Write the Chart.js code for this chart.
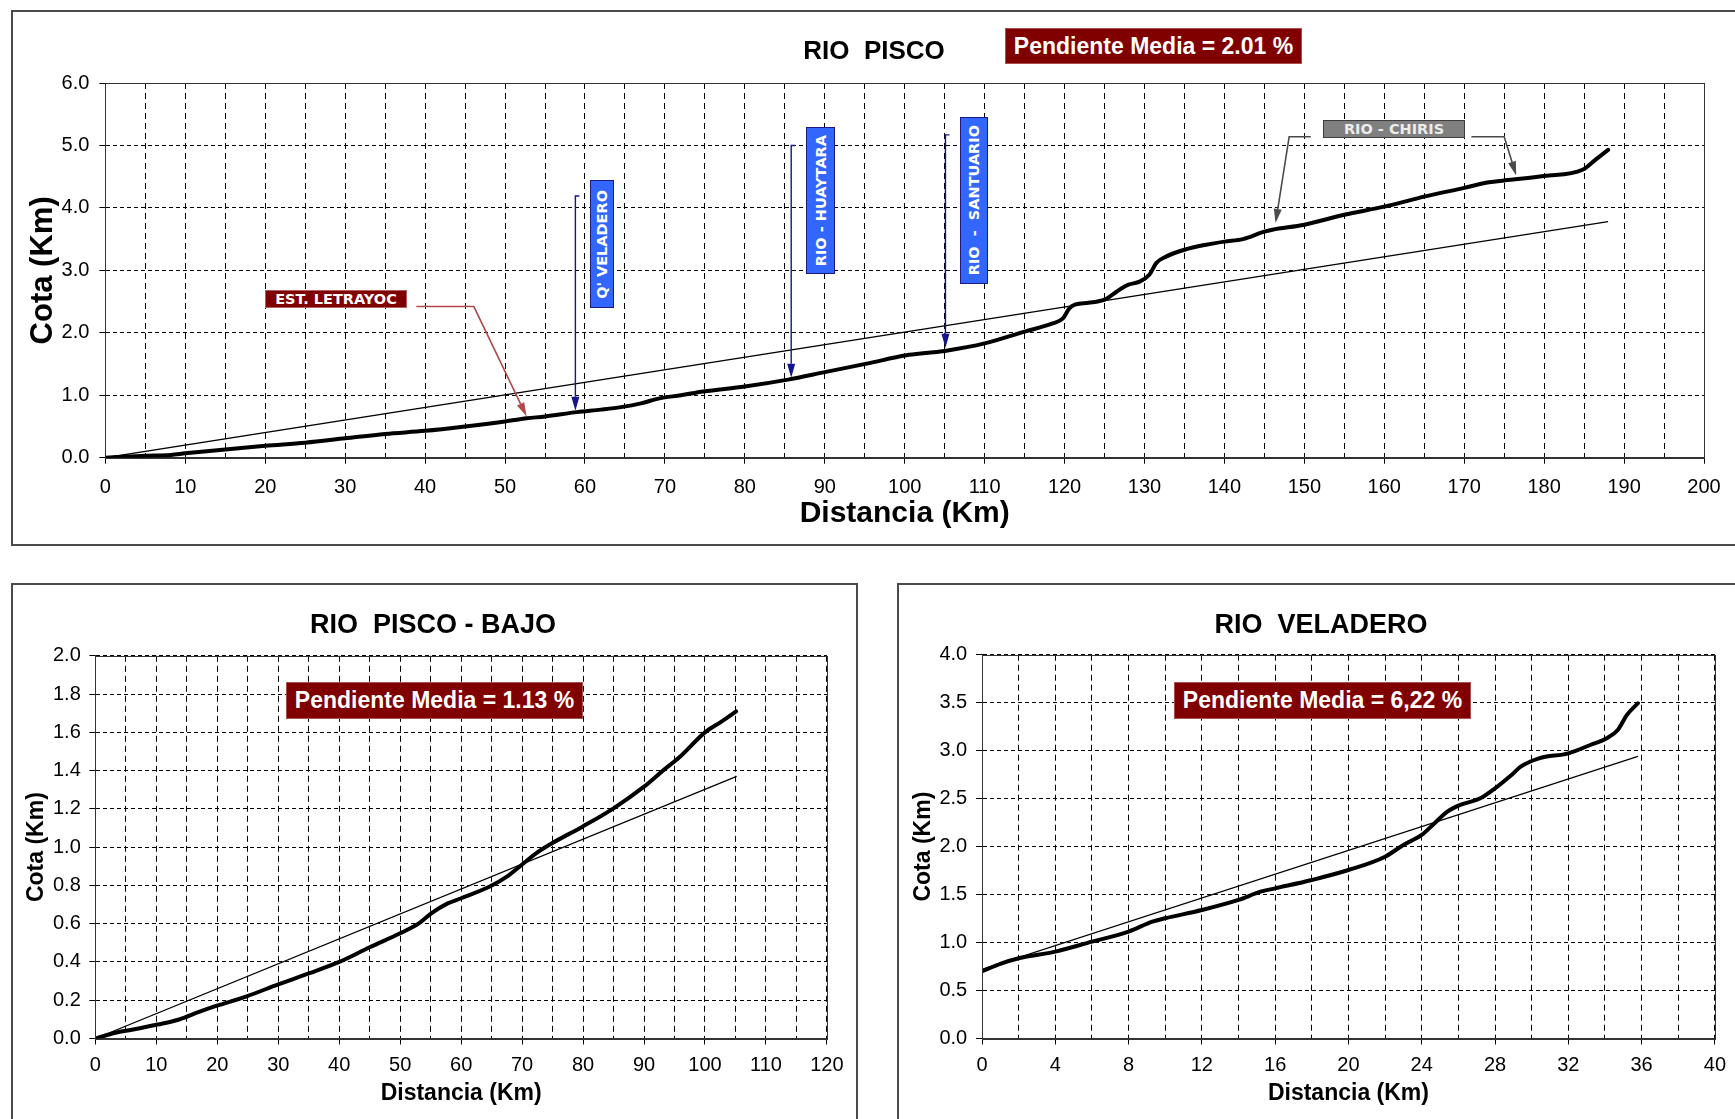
<!DOCTYPE html>
<html>
<head>
<meta charset="utf-8">
<title>Perfil longitudinal - Rio Pisco</title>
<script src="https://cdn.jsdelivr.net/npm/chart.js@4.4.1/dist/chart.umd.min.js"></script>
<style>
    body { margin: 0; background: #fff; font-family: "Liberation Sans", Arial, sans-serif; }
    #page { position: relative; width: 1735px; height: 1119px; overflow: hidden; background: #fff; }
    .frame { position: absolute; border: 2px solid #4a4a4a; box-sizing: border-box; }
    .plot { position: absolute; }
    .title { position: absolute; font-weight: bold; white-space: pre; transform: translate(-50%, -50%); color: #000; }
    .tag { position: absolute; box-sizing: border-box; display: flex; align-items: center; justify-content: center; font-weight: bold; white-space: pre; }
    .media { background: #800000; color: #fff; border: 1px solid #a85050; font-size: 23px; }
    .small { font-family: "DejaVu Sans", Verdana, sans-serif; font-size: 14.5px; }
    .red { background: #800000; color: #fff; border: 1px solid #b06060; }
    .blue { background: #3366ff; color: #fff; border: 1px solid #1a1a80; }
    .gray { background: #808080; color: #ececec; border: 1px solid #3c3c3c; }
    .vert span { writing-mode: vertical-rl; transform: rotate(180deg); }
</style>
</head>
<body>
<div id="page">
    <!-- frames -->
    <div class="frame" style="left:11px; top:10px; width:1740px; height:536px;"></div>
    <div class="frame" style="left:11px; top:583px; width:847px; height:560px;"></div>
    <div class="frame" style="left:897px; top:583px; width:850px; height:560px;"></div>

    <!-- charts -->
    <div class="plot" style="left:0; top:0; width:1735px; height:545px;"><canvas id="pisco-chart"></canvas></div>
    <div class="plot" style="left:0; top:560px; width:870px; height:559px;"><canvas id="bajo-chart"></canvas></div>
    <div class="plot" style="left:880px; top:560px; width:855px; height:559px;"><canvas id="veladero-chart"></canvas></div>

    <!-- titles -->
    <div class="title" style="left:874px; top:50px; font-size:26px;">RIO  PISCO</div>
    <div class="title" style="left:433px; top:624px; font-size:27px;">RIO  PISCO - BAJO</div>
    <div class="title" style="left:1321px; top:624px; font-size:27px;">RIO  VELADERO</div>

    <!-- slope boxes -->
    <div class="tag media" style="left:1005px; top:28px; width:297px; height:36px;">Pendiente Media = 2.01 %</div>
    <div class="tag media" style="left:286px; top:682px; width:297px; height:37px;">Pendiente Media = 1.13 %</div>
    <div class="tag media" style="left:1174px; top:682px; width:297px; height:37px;">Pendiente Media = 6,22 %</div>

    <!-- tributary labels -->
    <div class="tag small red" style="left:265px; top:290px; width:142px; height:18px;">EST. LETRAYOC</div>
    <div class="tag small blue vert" style="left:590px; top:180px; width:24px; height:128px;"><span>Q' VELADERO</span></div>
    <div class="tag small blue vert" style="left:806px; top:127px; width:29px; height:147px;"><span>RIO - HUAYTARA</span></div>
    <div class="tag small blue vert" style="left:960px; top:117px; width:28px; height:167px;"><span>RIO  -  SANTUARIO</span></div>
    <div class="tag small gray" style="left:1323px; top:120px; width:142px; height:18px;">RIO - CHIRIS</div>
</div>

<script>
// ---- data read from the profiles ----

// Rio Pisco (full profile)
var pisco_km = [0, 3, 5, 8.2, 10, 15, 20, 25, 30, 35, 40, 45, 50, 52.7, 55, 59, 62, 64.5, 67, 69.3,
    72, 74.8, 80, 85.4, 90, 95.4, 100.2, 103, 105, 110, 115, 118.5, 119.8, 120.6, 121.3, 123, 125,
    126, 127.1, 128, 129.4, 130.6, 131.5, 132.7, 135, 137.7, 140, 142.3, 145, 146, 150, 155, 160,
    165, 170, 173.1, 175, 180, 184.8, 186.4, 188];
var pisco_cota = [0, 0.02, 0.03, 0.045, 0.07, 0.13, 0.19, 0.24, 0.31, 0.38, 0.43, 0.50, 0.58, 0.63,
    0.66, 0.73, 0.77, 0.81, 0.87, 0.95, 1.00, 1.06, 1.14, 1.25, 1.37, 1.51, 1.64, 1.68, 1.71, 1.83,
    2.02, 2.15, 2.23, 2.39, 2.45, 2.48, 2.53, 2.61, 2.71, 2.77, 2.82, 2.93, 3.12, 3.22, 3.33, 3.41,
    3.46, 3.50, 3.62, 3.65, 3.73, 3.89, 4.02, 4.18, 4.32, 4.41, 4.44, 4.51, 4.61, 4.77, 4.93];
var pisco_trend_km = [0, 188];
var pisco_trend_cota = [0, 3.78];

// Rio Pisco - bajo
var bajo_km = [0, 3.3, 6, 10.2, 13.6, 17.1, 19.8, 24.7, 30, 35, 40, 45, 50, 53, 55.1, 57.8, 60,
    64.7, 67.5, 69.9, 72.3, 74.9, 79.9, 85, 90, 93.1, 95.8, 100, 102.7, 105.1];
var bajo_cota = [0, 0.03, 0.046, 0.073, 0.098, 0.14, 0.17, 0.219, 0.283, 0.34, 0.40, 0.477, 0.55,
    0.60, 0.654, 0.706, 0.733, 0.794, 0.846, 0.907, 0.968, 1.02, 1.107, 1.203, 1.316, 1.40, 1.47,
    1.60, 1.656, 1.71];
var bajo_trend_km = [0, 105.2];
var bajo_trend_cota = [0, 1.37];

// Rio Veladero
var vel_km = [0, 1.04, 2, 4, 6, 8, 9.3, 10, 12, 14, 15.2, 16, 18, 20, 22, 23, 24, 24.7, 25.4, 26.1,
    27.2, 28, 28.9, 29.4, 30.4, 32, 33.2, 34.1, 34.7, 35.2, 35.8];
var vel_cota = [0.70, 0.78, 0.836, 0.905, 1.009, 1.114, 1.218, 1.253, 1.339, 1.444, 1.53, 1.565,
    1.652, 1.756, 1.895, 2.017, 2.121, 2.243, 2.364, 2.434, 2.503, 2.607, 2.746, 2.833, 2.92, 2.972,
    3.059, 3.129, 3.216, 3.372, 3.494];
var vel_trend_km = [0, 35.8];
var vel_trend_cota = [0.72, 2.94];

// axis ranges: [min, max, grid step, label step]
var pisco_x_axis = [0, 200, 5, 10];
var pisco_y_axis = [0, 6, 1];
var bajo_x_axis = [0, 120, 5, 10];
var bajo_y_axis = [0, 2, 0.2];
var vel_x_axis = [0, 40, 2, 4];
var vel_y_axis = [0, 4, 0.5];

var FONT = '"Liberation Sans", Arial, sans-serif';

// pair two arrays into {x, y} points
function toPoints(xs, ys) {
    var points = [];
    for (var i = 0; i < xs.length; i++) {
        points.push({ x: xs[i], y: ys[i] });
    }
    return points;
}

// plugin: closes the plot box and draws the pointer arrows (given in data units)
function makeOverlay(arrows) {
    return {
        id: 'overlay',
        afterDatasetsDraw: function(chart) {
            var c = chart.ctx;
            var a = chart.chartArea;
            var xs = chart.scales.x;
            var ys = chart.scales.y;
            c.save();
            c.strokeStyle = '#333';
            c.lineWidth = 1;
            c.strokeRect(Math.round(a.left) + 0.5, Math.round(a.top) + 0.5,
                Math.round(a.right - a.left), Math.round(a.bottom - a.top));
            arrows.forEach(function(ar) {
                var pts = ar.pts.map(function(p) {
                    return [xs.getPixelForValue(p[0]), ys.getPixelForValue(p[1])];
                });
                var n = pts.length;
                var tip = pts[n - 1];
                var prev = pts[n - 2];
                var ang = Math.atan2(tip[1] - prev[1], tip[0] - prev[0]);
                var headLen = 14;
                var headW = 4;
                // line stops at the arrowhead base
                var baseX = tip[0] - Math.cos(ang) * headLen;
                var baseY = tip[1] - Math.sin(ang) * headLen;
                c.strokeStyle = ar.color;
                c.fillStyle = ar.color;
                c.lineWidth = ar.width;
                c.beginPath();
                c.moveTo(pts[0][0], pts[0][1]);
                for (var i = 1; i < n - 1; i++) {
                    c.lineTo(pts[i][0], pts[i][1]);
                }
                c.lineTo(baseX, baseY);
                c.stroke();
                c.beginPath();
                c.moveTo(tip[0], tip[1]);
                c.lineTo(baseX + Math.sin(ang) * headW, baseY - Math.cos(ang) * headW);
                c.lineTo(baseX - Math.sin(ang) * headW, baseY + Math.cos(ang) * headW);
                c.closePath();
                c.fill();
            });
            c.restore();
        }
    };
}

// build one profile chart
function buildChart(id, cfg) {
    var ctx = document.getElementById(id).getContext('2d');
    return new Chart(ctx, {
        type: 'line',
        data: {
            datasets: [{
                data: cfg.profile,
                borderColor: '#000',
                borderWidth: 4,
                pointRadius: 0,
                cubicInterpolationMode: 'monotone',
                borderJoinStyle: 'round',
                borderCapStyle: 'round'
            }, {
                data: cfg.trend,
                borderColor: '#000',
                borderWidth: 1.2,
                pointRadius: 0
            }]
        },
        options: {
            responsive: true,
            maintainAspectRatio: false,
            animation: false,
            layout: { padding: cfg.padding },
            plugins: {
                legend: { display: false },
                tooltip: { enabled: false },
                title: { display: false }
            },
            scales: {
                x: {
                    type: 'linear',
                    min: cfg.xAxis[0],
                    max: cfg.xAxis[1],
                    afterFit: function(scale) { scale.height = cfg.xHeight; },
                    ticks: {
                        stepSize: cfg.xAxis[2],
                        autoSkip: false,
                        maxRotation: 0,
                        padding: cfg.xTickPad,
                        color: '#000',
                        font: { family: FONT, size: 20 },
                        callback: function(v) {
                            return (Math.abs(v % cfg.xAxis[3]) < 1e-6) ? String(v) : '';
                        }
                    },
                    grid: {
                        color: '#000',
                        lineWidth: 1,
                        tickLength: 6,
                        tickColor: function(c) {
                            return (c.tick && Math.abs(c.tick.value % cfg.xAxis[3]) < 1e-6) ? '#000' : 'rgba(0,0,0,0)';
                        }
                    },
                    border: { color: '#333', width: 1, dash: [6, 4] },
                    title: {
                        display: true,
                        text: 'Distancia (Km)',
                        color: '#000',
                        font: { family: FONT, size: cfg.xTitleSize, weight: 'bold' },
                        padding: { top: 0, bottom: cfg.xTitlePad }
                    }
                },
                y: {
                    type: 'linear',
                    min: cfg.yAxis[0],
                    max: cfg.yAxis[1],
                    afterFit: function(scale) { scale.width = cfg.yWidth; },
                    ticks: {
                        stepSize: cfg.yAxis[2],
                        padding: cfg.yTickPad,
                        color: '#000',
                        font: { family: FONT, size: 20 },
                        callback: function(v) { return Number(v).toFixed(1); }
                    },
                    grid: { color: '#000', lineWidth: 1, tickLength: 6, tickColor: '#000' },
                    border: { color: '#333', width: 1, dash: [4, 3] },
                    title: {
                        display: true,
                        text: 'Cota (Km)',
                        color: '#000',
                        font: { family: FONT, size: cfg.yTitleSize, weight: 'bold' },
                        padding: { top: cfg.yTitlePad, bottom: 0 }
                    }
                }
            }
        },
        plugins: [makeOverlay(cfg.arrows)]
    });
}

buildChart('pisco-chart', {
    profile: toPoints(pisco_km, pisco_cota),
    trend: toPoints(pisco_trend_km, pisco_trend_cota),
    xAxis: pisco_x_axis,
    yAxis: pisco_y_axis,
    padding: { left: 20, top: 83, right: 31, bottom: 10 },
    xHeight: 77.3,
    yWidth: 85.4,
    xTickPad: 12,
    yTickPad: 10,
    xTitleSize: 30,
    xTitlePad: 3,
    yTitleSize: 31,
    yTitlePad: 5,
    arrows: [
        { pts: [[38.9, 2.42], [46.1, 2.42], [52.7, 0.66]], color: '#b04a4a', width: 1.6 },
        { pts: [[59.3, 4.19], [58.8, 4.19], [58.8, 0.75]], color: '#14148c', width: 1.4 },
        { pts: [[86.3, 5.0], [85.8, 5.0], [85.8, 1.28]], color: '#14148c', width: 1.4 },
        { pts: [[105.6, 5.17], [105.1, 5.17], [105.1, 1.76]], color: '#14148c', width: 1.4 },
        { pts: [[150.8, 5.14], [148.1, 5.14], [146.4, 3.76]], color: '#4a4a4a', width: 1.6 },
        { pts: [[170.9, 5.14], [175.0, 5.14], [176.5, 4.52]], color: '#4a4a4a', width: 1.6 }
    ]
});

buildChart('bajo-chart', {
    profile: toPoints(bajo_km, bajo_cota),
    trend: toPoints(bajo_trend_km, bajo_trend_cota),
    xAxis: bajo_x_axis,
    yAxis: bajo_y_axis,
    padding: { left: 15, top: 95.8, right: 43.1, bottom: 5 },
    xHeight: 75.5,
    yWidth: 80.4,
    xTickPad: 9,
    yTickPad: 8.6,
    xTitleSize: 23,
    xTitlePad: 6.7,
    yTitleSize: 23,
    yTitlePad: 8.2,
    arrows: []
});

buildChart('veladero-chart', {
    profile: toPoints(vel_km, vel_cota),
    trend: toPoints(vel_trend_km, vel_trend_cota),
    xAxis: vel_x_axis,
    yAxis: vel_y_axis,
    padding: { left: 20, top: 94.7, right: 19.1, bottom: 5 },
    xHeight: 75.5,
    yWidth: 82,
    xTickPad: 9,
    yTickPad: 8.8,
    xTitleSize: 23,
    xTitlePad: 6.7,
    yTitleSize: 23,
    yTitlePad: 9.8,
    arrows: []
});
</script>
</body>
</html>
